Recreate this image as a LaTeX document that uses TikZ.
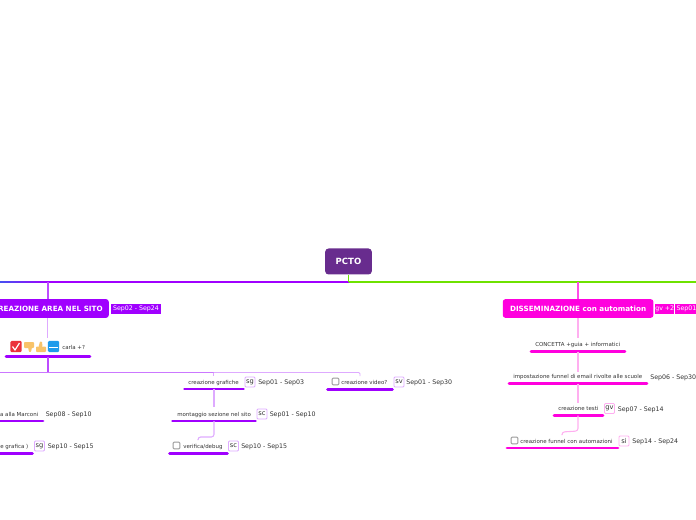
\documentclass[tikz,border=0pt]{standalone}
\usepackage{fontspec}
\setmainfont{DejaVu Sans}
\definecolor{rootcol}{RGB}{104,44,142}
\definecolor{purpcol}{RGB}{160,0,255}
\definecolor{purplite}{RGB}{222,170,255}
\definecolor{magcol}{RGB}{255,0,222}
\definecolor{maglite}{RGB}{255,175,240}
\definecolor{greencol}{RGB}{110,226,0}
\definecolor{bluecol}{RGB}{70,80,240}
\definecolor{txtcol}{RGB}{50,50,50}
\definecolor{thumbcol}{RGB}{248,195,105}
\definecolor{checkcol}{RGB}{235,50,60}
\definecolor{iconblue}{RGB}{30,155,235}
\tikzset{
  leaftext/.style={anchor=base west,inner sep=0pt,yshift=-0.6pt,text=txtcol,font=\fontsize{4.1}{5}\selectfont},
  datetext/.style={anchor=base west,inner sep=0pt,yshift=-0.6pt,text=txtcol,font=\fontsize{4.7}{6}\selectfont},
  mainbox/.style={rounded corners=2pt,inner sep=0pt,text=white,font=\bfseries\fontsize{5.4}{6}\selectfont,anchor=west,minimum height=14pt},
  headtag/.style={inner sep=0pt,anchor=west,minimum height=7.5pt,text=white,font=\fontsize{4.7}{6}\selectfont},
  persontag/.style={draw,rounded corners=0.8pt,line width=0.7pt,inner sep=0pt,minimum width=7.5pt,minimum height=7.5pt,text=txtcol,font=\fontsize{5}{5}\selectfont},
  tickbox/.style={draw=gray!80,rounded corners=0.7pt,line width=0.7pt,inner sep=0pt,minimum size=5pt},
  underbar/.style={line width=2.2pt,line cap=round},
  thumbicon/.style={fill=thumbcol,rounded corners=0.6pt}
}
\begin{document}
\begin{tikzpicture}[x=0.75pt,y=0.75pt,yscale=-1]
\useasboundingbox (0,0) rectangle (696,520);

% Free ends of the root line
\coordinate (rootjoin) at (348.5,282);
\coordinate (rightend) at (696,282);
\coordinate (areatop) at (47.8,282);
\coordinate (dissemtop) at (577.8,282);
\coordinate (areajoin) at (47.8,372.5);
\coordinate (graftop) at (213.5,372.5);
\coordinate (videotop) at (360,372.5);
\coordinate (leftjoin) at (0,372.5);

% Root and main nodes
\node [fill=rootcol,rounded corners=2.5pt,inner sep=0pt,minimum width=35pt,minimum height=19.5pt,text=white,font=\bfseries\fontsize{6.4}{7}\selectfont] (root) at (348.5,261.5) {PCTO};
\node [mainbox,fill=purpcol,minimum width=91.5pt] (area) at (-13.5,308.5) {CREAZIONE AREA NEL SITO};
\node [mainbox,fill=magcol,minimum width=113pt] (dissem) at (502.5,308.5) {DISSEMINAZIONE con automation};
\node [headtag,fill=purpcol,minimum width=37pt] (areadate) at (111,309) {Sep02 - Sep24};
\node [headtag,fill=magcol,minimum width=14pt] (dissemgv) at (655,309) {gv +2};
\node [headtag,fill=magcol,minimum width=16pt] (dissemdate) at (675,309) {\hspace{1pt}Sep01 - Sep30};

% Connectors of the root
\shade [left color=bluecol,right color=purpcol] (0,281.2) rectangle (47.8,282.8);
\draw [draw=purpcol,line width=1.1pt] (areatop) -- (rootjoin);
\draw [draw=greencol,line width=1.1pt] (rootjoin) -- (rightend);
\draw [draw=greencol,line width=1.2pt] (root.south) -- (rootjoin);
\draw [draw=purpcol!70,line width=1.4pt] (areatop) -- (area.north -| areatop);
\draw [draw=magcol!70,line width=1.4pt] (dissemtop) -- (dissem.north -| dissemtop);

% Carla node
\node [leaftext] (carla) at (62,348.5) {carla +?};
\node [fill=checkcol,rounded corners=1pt,minimum size=8.5pt,inner sep=0pt] (iconcheck) at (16,346.5) {};
\draw [draw=white,line width=0.9pt] (12.5,346.5) -- (15,350) -- (19.5,343);
\coordinate (icondown) at (29,347);
\fill [thumbicon] (24,342) rectangle (34,348);
\fill [thumbicon] (28,347) -- (32,347) -- (31,352) -- (29,352) -- cycle;
\coordinate (iconup) at (41,347);
\fill [thumbicon] (36,346.5) rectangle (46,352);
\fill [thumbicon] (38.5,347) -- (40,341.5) -- (42,341.5) -- (42.5,347) -- cycle;
\node [fill=iconblue,rounded corners=1pt,minimum size=8.5pt,inner sep=0pt] (bluebox) at (53.5,346.5) {};
\draw [draw=white,line width=0.3pt] (49,347) -- (58,347);
\coordinate (carlaL) at (6,356.5);
\coordinate (carlaR) at (90,356.5);
\coordinate (carlatop) at (47.8,338);
\coordinate (carlabot) at (47.8,356.5);
\draw [underbar,purpcol] (carlaL) -- (carlaR);
\draw [draw=purplite,line width=1pt] (area.south -| carlatop) -- (carlatop);
\draw [draw=purpcol!70,line width=1.4pt] (carlabot) -- (areajoin);

% Branch line
\draw [draw=purplite!70!purpcol,line width=0.7pt] (leftjoin) -- (areajoin) -- (graftop);
\draw [draw=purplite,line width=0.7pt,rounded corners=1pt] (graftop) -- (videotop) -- (360,376);
\draw [draw=purplite,line width=0.7pt] (graftop) -- (213.5,376);

% Left leaves
\node [leaftext,anchor=base east] (marconi) at (38.5,415.8) {a alla Marconi};
\node [datetext] (marconidate) at (45.5,415.8) {Sep08 - Sep10};
\draw [underbar,purpcol] (-5,421) -- (43,421);
\node [leaftext,anchor=base east] (grafica) at (28.5,447.8) {e grafica )};
\node [persontag,draw=purplite] (graficatag) at (39.5,446) {sg};
\node [datetext] (graficadate) at (47.5,447.8) {Sep10 - Sep15};
\draw [underbar,purpcol] (-5,453.5) -- (32.5,453.5);

% Middle leaves
\node [leaftext] (grafiche) at (188,383.8) {creazione grafiche};
\node [persontag,draw=purplite] (grafichetag) at (250,382) {sg};
\node [datetext] (grafichedate) at (258,383.8) {Sep01 - Sep03};
\coordinate (grafbarL) at (184.5,389);
\coordinate (grafbarR) at (243.5,389);
\coordinate (grafbarM) at (214,389);
\draw [underbar,purpcol] (grafbarL) -- (grafbarR);

\node [leaftext] (montaggio) at (177,415.8) {montaggio sezione nel sito};
\node [persontag,draw=purplite] (montaggiotag) at (262,414) {sc};
\node [datetext] (montaggiodate) at (269.5,415.8) {Sep01 - Sep10};
\coordinate (montbarL) at (172.5,421);
\coordinate (montbarR) at (255.5,421);
\coordinate (montbarM) at (214,421);
\draw [underbar,purpcol] (montbarL) -- (montbarR);
\draw [draw=purplite,line width=0.8pt] (grafbarM) -- (214,407);

\node [tickbox] (verificabox) at (176.5,445.5) {};
\node [leaftext] (verifica) at (183,447.8) {verifica/debug};
\node [persontag,draw=purplite] (verificatag) at (233.5,446) {sc};
\node [datetext] (verificadate) at (241,447.8) {Sep10 - Sep15};
\coordinate (verbarL) at (169.5,453.5);
\coordinate (verbarR) at (227.5,453.5);
\draw [underbar,purpcol] (verbarL) -- (verbarR);
\draw [draw=purplite,line width=0.8pt,rounded corners=2pt] (montbarM) -- (214,437) -- (198,437) -- (198,440);

\node [tickbox] (videobox) at (335.5,381.5) {};
\node [leaftext] (video) at (341,383.8) {creazione video?};
\node [persontag,draw=purplite] (videotag) at (399,382) {sv};
\node [datetext] (videodate) at (406,383.8) {Sep01 - Sep30};
\draw [underbar,purpcol] (327.5,389.5) -- (392.5,389.5);

% Right leaves
\node [leaftext] (concetta) at (535,345.8) {CONCETTA +guia + informatici};
\coordinate (conbarL) at (531,351.5);
\coordinate (conbarR) at (625,351.5);
\coordinate (conbarM) at (578,351.5);
\draw [underbar,magcol] (conbarL) -- (conbarR);
\draw [draw=maglite,line width=1pt] (dissem.south -| conbarM) -- (578,338);

\node [leaftext] (funnel) at (513,377.8) {impostazione funnel di email rivolte alle scuole};
\node [datetext] (funneldate) at (650,378.5) {Sep06 - Sep30};
\coordinate (funbarL) at (509,383.5);
\coordinate (funbarR) at (647,383.5);
\coordinate (funbarM) at (578,383.5);
\draw [underbar,magcol] (funbarL) -- (funbarR);
\draw [draw=maglite,line width=1pt] (conbarM) -- (578,372);

\node [leaftext] (testi) at (558,409.8) {creazione testi};
\node [persontag,draw=maglite] (testitag) at (609.5,408.5) {gv};
\node [datetext] (testidate) at (617.5,410.3) {Sep07 - Sep14};
\coordinate (tesbarL) at (554,415.5);
\coordinate (tesbarR) at (603,415.5);
\coordinate (tesbarM) at (578,415.5);
\draw [underbar,magcol] (tesbarL) -- (tesbarR);
\draw [draw=maglite,line width=1pt] (funbarM) -- (578,403);

\node [tickbox] (autobox) at (514.5,440.5) {};
\node [leaftext] (auto) at (520,442.8) {creazione funnel con automazioni};
\node [persontag,draw=maglite] (autotag) at (624,441) {si};
\node [datetext] (autodate) at (632,442.8) {Sep14 - Sep24};
\draw [underbar,magcol] (507,448) -- (618,448);
\draw [draw=maglite,line width=0.8pt,rounded corners=2pt] (tesbarM) -- (578,431) -- (562,432) -- (562,435);

\end{tikzpicture}
\end{document}
